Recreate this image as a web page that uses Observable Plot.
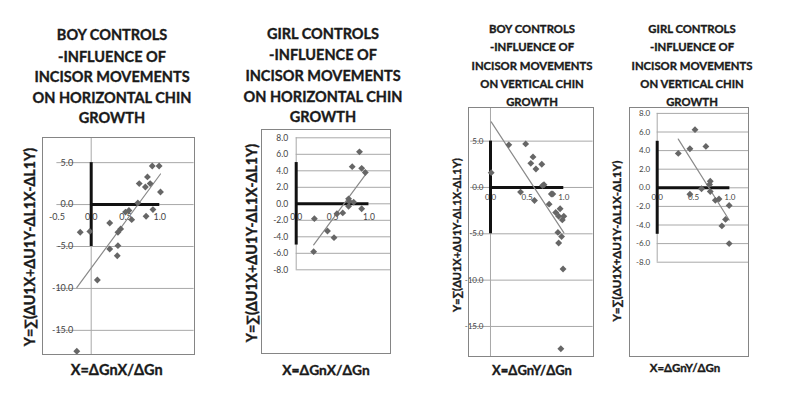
<!DOCTYPE html>
<html><head><meta charset="utf-8">
<script src="https://cdn.jsdelivr.net/npm/d3@7"></script>
<script src="https://cdn.jsdelivr.net/npm/@observablehq/plot@0.6"></script>
<style>
body{margin:0;background:#fff;}
#root{position:relative;width:804px;height:398px;overflow:hidden;font-family:Lato,"Open Sans",sans-serif;background:#fff;}
.t{position:absolute;font-weight:bold;color:#1a1a1a;white-space:nowrap;transform:translate(-50%,-50%);line-height:1;-webkit-text-stroke:0.35px #1a1a1a;}
.ylab{position:absolute;font-weight:bold;color:#1a1a1a;white-space:nowrap;transform:translate(-50%,-50%) rotate(-90deg);line-height:1;-webkit-text-stroke:0.35px #1a1a1a;}
.frame{position:absolute;border:1px solid #858585;box-sizing:border-box;pointer-events:none;}
</style></head>
<body><div id="root"></div>
<script>
// ---- text ----
const titleBoyH  = ["BOY CONTROLS", "-INFLUENCE OF", "INCISOR MOVEMENTS", "ON HORIZONTAL CHIN", "GROWTH"];
const titleGirlH = ["GIRL CONTROLS", "-INFLUENCE OF", "INCISOR MOVEMENTS", "ON HORIZONTAL CHIN", "GROWTH"];
const titleBoyV  = ["BOY CONTROLS", "-INFLUENCE OF", "INCISOR MOVEMENTS", "ON VERTICAL CHIN", "GROWTH"];
const titleGirlV = ["GIRL CONTROLS", "-INFLUENCE OF", "INCISOR MOVEMENTS", "ON VERTICAL CHIN", "GROWTH"];
const yAxisLabel = "Y=∑(ΔU1X+ΔU1Y-ΔL1X-ΔL1Y)";
const xLabelH = "X=ΔGnX/ΔGn";
const xLabelV = "X=ΔGnY/ΔGn";

// ---- tick values ----
const yTicksBoy  = [5, 0, -5, -10, -15];
const yTicksGirl = [8, 6, 4, 2, 0, -2, -4, -6, -8];
const xTicksBoyH = [-0.5, 0, 0.5, 1.0];
const xTicksStd  = [0, 0.5, 1.0];

// reference cross (thick black lines)
const crossY = [-5, 5];
const crossX = [0, 1];

// ---- data ----
const boyHX = [0.89, 0.99, 0.82, 0.70, 0.79, 0.86, 1.01, 0.68, 0.90, 0.80, 0.55, 0.50, 0.59, 0.27, 0.43, 0.39, -0.02, -0.16, 0.27, 0.39, 0.38, 0.09, -0.21];
const boyHY = [4.6, 4.6, 3.3, 2.5, 2.1, 2.5, 1.5, 0.2, -0.6, -1.4, -0.7, -0.9, -1.8, -2.2, -2.9, -3.3, -3.2, -3.3, -5.3, -4.9, -6.1, -9.0, -17.5];

const girlHX = [0.87, 0.77, 0.90, 0.95, 0.72, 0.73, 0.79, 0.72, 0.90, 0.64, 0.56, 0.25, 0.43, 0.52, 0.24];
const girlHY = [6.3, 4.5, 4.3, 3.8, 0.6, 0.3, 0.2, -0.3, -0.6, -1.1, -1.2, -1.8, -3.3, -4.1, -5.8];

const boyVX = [0.25, 0.48, 0.01, 0.58, 0.55, 0.70, 0.62, 0.73, 0.71, 0.41, 0.60, 0.83, 0.85, 0.80, 0.95, 0.89, 0.93, 1.00, 0.98, 0.92, 0.97, 0.93, 0.99, 0.96];
const boyVY = [4.6, 4.7, 1.6, 3.3, 2.6, 2.5, 2.0, 0.3, 0.2, -0.5, -1.4, -0.7, -0.7, -1.8, -2.3, -2.7, -3.1, -3.1, -3.5, -4.85, -5.3, -6.0, -8.8, -17.4];

const girlVX = [0.52, 0.67, 0.45, 0.29, 0.73, 0.72, 0.61, 0.73, 0.45, 0.80, 0.85, 0.99, 0.94, 0.89, 0.99];
const girlVY = [6.25, 4.45, 4.2, 3.7, 0.7, 0.35, -0.1, -0.4, -0.7, -1.35, -1.2, -1.9, -3.4, -4.1, -6.0];

// ---- layout ----
const panels = [
  {title: titleBoyH, tx: 112, ty: [35, 56.5, 77, 97.5, 117.5], ts: 14.5,
   frame: [42, 137, 153, 218], m: [14.4, 1.4, 0, 0], xd: [-0.5, 1.5], yd: [-18, 8],
   xs: boyHX, ys: boyHY, yt: yTicksBoy, xt: xTicksBoyH, ydx: -18, xdy: 13, tk: 9,
   yl: [30, 247, 14.2], xl: xLabelH, xlp: [116.7, 370, 14.5]},
  {title: titleGirlH, tx: 323, ty: [33.5, 55, 76, 96.5, 116.5], ts: 14.5,
   frame: [261, 129, 130, 225], m: [34.7, 0, 8.3, 84.7], xd: [0, 1.31], yd: [-8, 8],
   xs: girlHX, ys: girlHY, yt: yTicksGirl, xt: xTicksStd, ydx: -8, xdy: 13, tk: 8.5,
   yl: [251.7, 243, 14.2], xl: xLabelH, xlp: [326, 370, 13.8]},
  {title: titleBoyV, tx: 532, ty: [28.5, 47, 65.5, 84, 102], ts: 11.3,
   frame: [468, 107, 126, 250], m: [2.2, 1.4, 0, 0], xd: [-0.27, 1.4], yd: [-18.35, 8.63],
   xs: boyVX, ys: boyVY, yt: yTicksBoy, xt: xTicksStd, ydx: -7, xdy: 10, tk: 8,
   yl: [455.7, 235, 11], xl: xLabelV, xlp: [532, 370, 13]},
  {title: titleGirlV, tx: 692, ty: [28.5, 47, 65.5, 84, 102], ts: 11.3,
   frame: [629, 107, 120, 250], m: [27.7, 0, 5.9, 95.3], xd: [0, 1.27], yd: [-8, 8],
   xs: girlVX, ys: girlVY, yt: yTicksGirl, xt: xTicksStd, ydx: -7, xdy: 10, tk: 8,
   yl: [616.7, 241, 11.5], xl: xLabelV, xlp: [685, 368, 11.5]}
];

const root = document.getElementById("root");
const fmt = d => d.toFixed(1);

function addDiv(cls, text, x, y, size) {
  const el = document.createElement("div");
  el.className = cls;
  el.textContent = text;
  el.style.left = x + "px";
  el.style.top = y + "px";
  el.style.fontSize = size + "px";
  root.appendChild(el);
  return el;
}

for (const p of panels) {
  p.title.forEach((line, i) => addDiv("t", line, p.tx, p.ty[i], p.ts));
  addDiv("ylab", yAxisLabel, p.yl[0], p.yl[1], p.yl[2]);
  addDiv("t", p.xl, p.xlp[0], p.xlp[1], p.xlp[2]);

  const data = p.xs.map((x, i) => ({x, y: p.ys[i]}));
  const [fl, ft, fw, fh] = p.frame;
  const svg = Plot.plot({
    width: fw, height: fh,
    marginLeft: p.m[0], marginRight: p.m[1], marginTop: p.m[2], marginBottom: p.m[3],
    x: {domain: p.xd, axis: null},
    y: {domain: p.yd, axis: null},
    style: {background: "transparent", overflow: "visible", position: "absolute",
            left: fl + "px", top: ft + "px", maxWidth: "none", height: fh + "px",
            fontFamily: "Lato, 'Open Sans', sans-serif"},
    marks: [
      Plot.ruleY(p.yt, {stroke: "#a8a8a8", strokeWidth: 1}),
      Plot.ruleX([0], {stroke: "#a8a8a8", strokeWidth: 1}),
      Plot.text(p.yt, {x: 0, y: d => d, text: fmt, dx: p.ydx, textAnchor: "end", fontSize: p.tk, fill: "#444"}),
      Plot.text(p.xt, {x: d => d, y: 0, text: fmt, dy: p.xdy, fontSize: p.tk, fill: "#444"}),
      Plot.ruleX([0], {y1: crossY[0], y2: crossY[1], stroke: "#111", strokeWidth: 3}),
      Plot.ruleY([0], {x1: crossX[0], x2: crossX[1], stroke: "#111", strokeWidth: 3}),
      Plot.linearRegressionY(data, {x: "x", y: "y", ci: 0, stroke: "#8a8a8a", strokeWidth: 1.2}),
      Plot.dot(data, {x: "x", y: "y", symbol: "diamond2", r: 3.1, fill: "#666", stroke: "none"})
    ]
  });
  root.appendChild(svg);
  const fr = document.createElement("div");
  fr.className = "frame";
  fr.style.left = fl + "px"; fr.style.top = ft + "px";
  fr.style.width = fw + "px"; fr.style.height = fh + "px";
  root.appendChild(fr);
}
</script></body></html>
